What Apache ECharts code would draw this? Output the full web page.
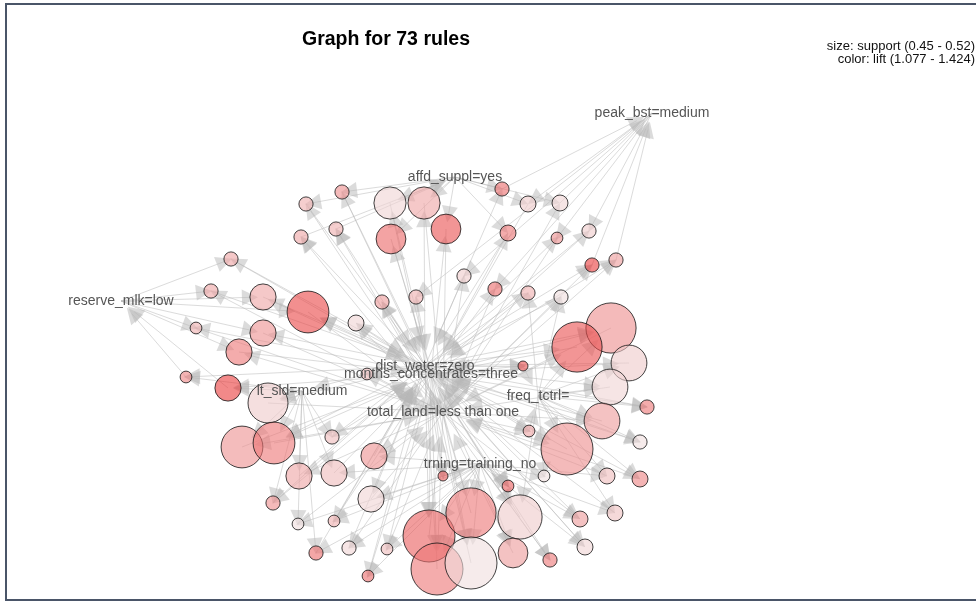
<!DOCTYPE html>
<html>
<head>
<meta charset="utf-8">
<title>Graph for 73 rules</title>
<script src="https://cdn.jsdelivr.net/npm/echarts@6/dist/echarts.min.js"></script>
<style>
  html, body { margin: 0; padding: 0; background: #fff; }
  #wrap { position: relative; width: 976px; height: 603px; overflow: hidden; }
  #chart { width: 976px; height: 603px; }
  #frame {
    position: absolute; left: 5px; top: 3px; width: 990px; height: 594px;
    border: 2px solid #4a5568; border-right: none; pointer-events: none;
  }
</style>
</head>
<body>
<div id="wrap">
  <div id="chart"></div>
  <div id="frame"></div>
</div>
<script>
// item vertices (label centres, in picture units)
const items = ['peak_bst=medium', 'affd_suppl=yes', 'reserve_mlk=low', 'dist_water=zero',
  'months_concentrates=three', 'lt_sld=medium', 'freq_tctrl=', 'total_land=less than one',
  'trning=training_no']
const itemX = [652, 455, 121, 425, 431, 302, 538, 443, 480]
const itemY = [113, 177, 301, 366, 374, 391, 396, 412, 464]

// rule vertices
const ruleX = [342, 306, 390, 424, 336, 301, 391, 446, 231, 211, 263, 308, 382, 416, 464,
  196, 263, 356, 239, 186, 367, 502, 528, 560, 508, 557, 589, 592, 616, 495,
  528, 561, 611, 577, 629, 523, 228, 268, 242, 274, 332, 374, 299, 334, 443,
  273, 371, 298, 334, 429, 471, 316, 349, 387, 437, 471, 368, 610, 647, 602,
  529, 640, 567, 544, 607, 640, 508, 520, 615, 580, 513, 585, 550]
const ruleY = [192, 204, 203, 203, 229, 237, 239, 229, 259, 291, 297, 312, 302, 297, 276,
  328, 333, 323, 352, 377, 374, 189, 204, 203, 233, 238, 231, 265, 260, 289,
  293, 297, 328, 347, 363, 366, 388, 403, 447, 443, 437, 456, 476, 473, 476,
  503, 499, 524, 521, 536, 513, 553, 548, 549, 569, 563, 576, 387, 407, 421,
  431, 442, 449, 476, 476, 479, 486, 517, 513, 519, 553, 547, 560]
const support = [0.457, 0.457, 0.487, 0.487, 0.457, 0.457, 0.483, 0.483, 0.457, 0.457, 0.477, 0.503, 0.457, 0.457, 0.457,
  0.453, 0.477, 0.460, 0.477, 0.453, 0.453, 0.457, 0.460, 0.460, 0.460, 0.453, 0.457, 0.457, 0.457, 0.457,
  0.457, 0.457, 0.517, 0.517, 0.493, 0.450, 0.477, 0.500, 0.503, 0.503, 0.457, 0.477, 0.477, 0.477, 0.450,
  0.457, 0.477, 0.453, 0.453, 0.520, 0.517, 0.457, 0.457, 0.453, 0.520, 0.520, 0.453, 0.493, 0.457, 0.493,
  0.453, 0.457, 0.520, 0.453, 0.460, 0.460, 0.453, 0.507, 0.460, 0.460, 0.483, 0.460, 0.457]
const lift = [1.25, 1.18, 1.10, 1.20, 1.18, 1.20, 1.33, 1.38, 1.20, 1.20, 1.20, 1.40, 1.22, 1.18, 1.12,
  1.18, 1.24, 1.10, 1.30, 1.27, 1.15, 1.32, 1.12, 1.10, 1.30, 1.25, 1.12, 1.42, 1.22, 1.32,
  1.18, 1.08, 1.25, 1.38, 1.12, 1.38, 1.42, 1.12, 1.24, 1.30, 1.15, 1.24, 1.20, 1.15, 1.35,
  1.25, 1.10, 1.08, 1.18, 1.35, 1.30, 1.32, 1.10, 1.15, 1.30, 1.08, 1.32, 1.10, 1.30, 1.22,
  1.20, 1.08, 1.25, 1.08, 1.15, 1.27, 1.35, 1.12, 1.14, 1.22, 1.22, 1.10, 1.30]
// lhs item indexes and rhs item index of each rule
const lhs = [[1,3],[1,7],[1,4],[1,3],[3,7],[4,7],[1,7],[1,4],[2,3],[2,7],[2,4],[2,3,4],[3,7],[0,3],[0,7],
  [2,4],[2,3],[4,7],[2,7],[5,3],[3,7],[1,3],[1,0],[1,7],[1,4],[0,3],[0,4],[3,7],[4,7],[0,4],
  [6,3],[6,7],[6,3,4],[6,7,3],[6,4],[3,4],[5,4],[5,3],[5,7],[5,4,3],[5,3],[8,7],[5,7],[5,8],[3,4],
  [5,4],[8,3],[5,8],[8,4],[8,3,4],[8,7],[8,5],[8,7],[8,4],[8,7,3],[8,4,7],[8,3],[6,3],[6,4],[6,7],
  [3,7],[6,3],[6,4,7],[8,6],[6,8],[6,3],[3,7],[8,6,3],[6,8],[8,7],[8,4],[8,3],[8,7]]
const rhs = [4, 3, 3, 7, 1, 1, 4, 7, 4, 3, 3, 7, 4, 4, 3,
  7, 7, 3, 4, 2, 5, 0, 4, 0, 3, 7, 3, 0, 0, 7,
  4, 3, 7, 4, 3, 6, 2, 7, 4, 7, 4, 3, 3, 4, 8,
  3, 7, 7, 3, 7, 4, 3, 3, 7, 4, 3, 4, 7, 3, 4,
  6, 4, 3, 3, 7, 7, 8, 4, 4, 3, 7, 4, 3]

const supportRange = [0.45, 0.52]
const liftRange = [1.077, 1.424]

// invisible vertex size of each item (where arrows stop)
const itemVertexSize = [34, 36, 34, 64, 64, 40, 40, 64, 44]

function sizeOf(s) {
  const t = (s - supportRange[0]) / (supportRange[1] - supportRange[0])
  return 10 + t * 42
}
// light pink -> red, drawn half transparent like the original
function colorOf(l) {
  const t = Math.max(0, Math.min(1, (l - liftRange[0]) / (liftRange[1] - liftRange[0])))
  const r = Math.round(240 + (233 - 240) * t)
  const g = Math.round(222 + (57 - 222) * t)
  return 'rgba(' + r + ',' + g + ',' + g + ',0.6)'
}

const nodes = []
const links = []
ruleX.forEach((x, i) => {
  nodes.push({
    name: 'rule ' + (i + 1),
    value: [x, ruleY[i]],
    symbolSize: sizeOf(support[i]),
    itemStyle: { color: colorOf(lift[i]), borderColor: 'rgba(20,20,20,0.8)', borderWidth: 1 },
    label: { show: false }
  })
})
items.forEach((name, k) => {
  nodes.push({
    name: name,
    value: [itemX[k], itemY[k]],
    symbolSize: itemVertexSize[k],
    itemStyle: { color: 'rgba(0,0,0,0)', borderWidth: 0 },
    label: { show: true, position: 'inside', formatter: name, color: '#555', fontSize: 14,
      fontFamily: 'Liberation Sans, Arial, sans-serif' }
  })
})
const nRules = ruleX.length
lhs.forEach((list, i) => {
  list.forEach(k => links.push({ source: nRules + k, target: i }))
  links.push({ source: i, target: nRules + rhs[i] })
})

const font = 'Liberation Sans, Arial, sans-serif'
const chart = echarts.init(document.getElementById('chart'))
chart.setOption({
  animation: false,
  title: {
    text: 'Graph for 73 rules',
    left: 381, top: 25, textAlign: 'center',
    textStyle: { fontSize: 19.5, fontWeight: 'bold', color: '#000', fontFamily: font }
  },
  graphic: [
    { type: 'text', right: 1, top: 40,
      style: { text: 'size: support (0.45 - 0.52)', fontSize: 13, fill: '#111', fontFamily: font } },
    { type: 'text', right: 1, top: 53,
      style: { text: 'color: lift (1.077 - 1.424)', fontSize: 13, fill: '#111', fontFamily: font } }
  ],
  grid: { left: 0, right: 0, top: 0, bottom: 0 },
  xAxis: { type: 'value', min: 0, max: 976, show: false },
  yAxis: { type: 'value', min: 0, max: 603, inverse: true, show: false },
  series: [{
    type: 'graph',
    coordinateSystem: 'cartesian2d',
    silent: true,
    symbol: 'circle',
    edgeSymbol: ['none', 'triangle'],
    edgeSymbolSize: [0, 16],
    lineStyle: { color: '#b8b8b8', opacity: 0.5, width: 1, curveness: 0 },
    data: nodes,
    links: links
  }]
})
</script>
</body>
</html>
